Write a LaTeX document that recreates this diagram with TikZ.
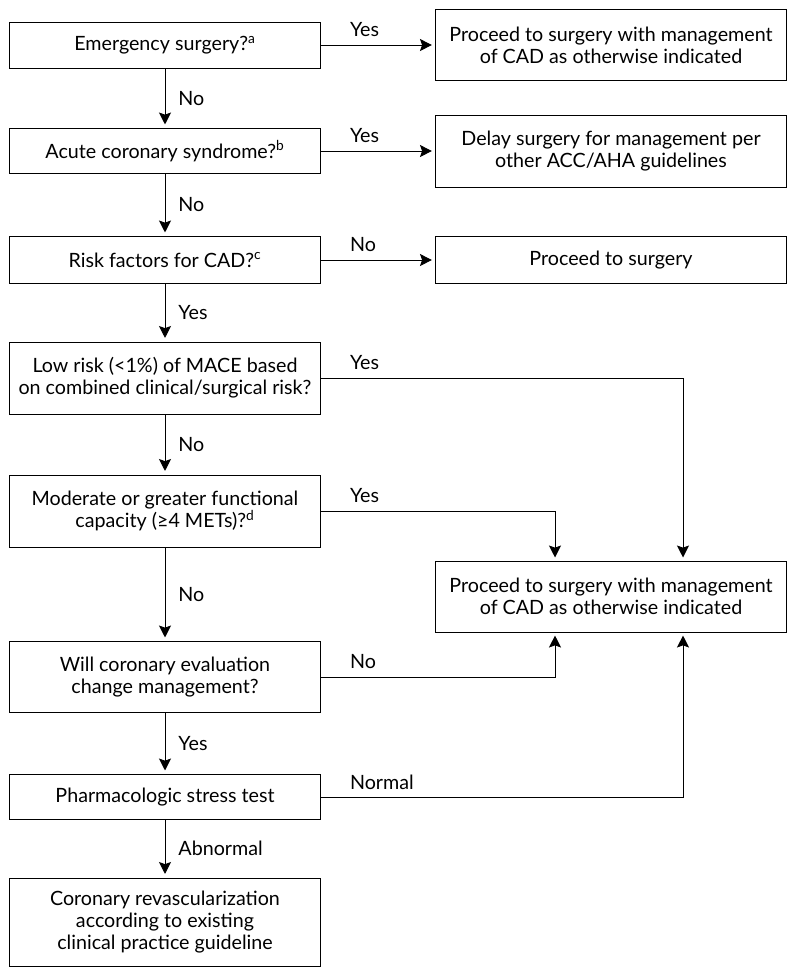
\documentclass[tikz,border=0pt]{standalone}
\usepackage{fontspec}
\setmainfont{Lato}
\usetikzlibrary{arrows.meta}

\tikzset{
  box/.style={draw, line width=0.7pt, align=center, minimum width=7.75cm, inner sep=2pt,
    font=\fontsize{14}{15.7}\selectfont},
  rbox/.style={box, minimum width=8.75cm},
  arr/.style={line width=0.7pt, -{Stealth[length=8.5pt,width=8.5pt,inset=1.5pt]}, shorten >=2.5pt},
  lbl/.style={font=\fontsize{14}{15.7}\selectfont, inner sep=0pt},
  vlbl/.style={lbl, right, xshift=0.325cm},
  hlbl/.style={lbl, pos=0, anchor=west, xshift=0.725cm, yshift=0.375cm},
}

\begin{document}
\begin{tikzpicture}[x=0.025cm,y=-0.025cm]
\useasboundingbox (0,0) rectangle (787,968);

% left column
\node [box, minimum height=1.15cm] (emerg) at (165,45) {Emergency surgery?\textsuperscript{a}};
\node [box, minimum height=1.125cm] (acs) at (165,151) {Acute coronary syndrome?\textsuperscript{b}};
\node [box, minimum height=1.175cm] (risk) at (165,260) {Risk factors for CAD?\textsuperscript{c}};
\node [box, minimum height=1.8cm] (lowrisk) at (165,378) {Low risk (<1\%) of MACE based\\on combined clinical/surgical risk?};
\node [box, minimum height=1.8cm] (capacity) at (165,511) {Moderate or greater functional\\capacity (≥4 METs)?\textsuperscript{d}};
\node [box, minimum height=1.775cm] (evalq) at (165,677) {Will coronary evaluation\\change management?};
\node [box, minimum height=1.125cm] (stress) at (165,797) {Pharmacologic stress test};
\node [box, minimum height=2.2cm] (revasc) at (165,922) {Coronary revascularization\\according to existing\\clinical practice guideline};

% right column
\node [rbox, minimum height=1.775cm] (proceedcad) at (611,45) {Proceed to surgery with management\\of CAD as otherwise indicated};
\node [rbox, minimum height=1.8cm] (delay) at (611,151) {Delay surgery for management per\\other ACC/AHA guidelines};
\node [rbox, minimum height=1.175cm] (proceed) at (611,260) {Proceed to surgery};
\node [rbox, minimum height=1.775cm] (proceedcadb) at (611,596.5) {Proceed to surgery with management\\of CAD as otherwise indicated};

\coordinate (inA) at (555,561);
\coordinate (inB) at (683,561);
\coordinate (outA) at (555,632);
\coordinate (outB) at (683,632);

% vertical flow
\draw [arr] (emerg) -- node [vlbl] {No} (acs);
\draw [arr] (acs) -- node [vlbl] {No} (risk);
\draw [arr] (risk) -- node [vlbl] {Yes} (lowrisk);
\draw [arr] (lowrisk) -- node [vlbl] {No} (capacity);
\draw [arr] (capacity) -- node [vlbl] {No} (evalq);
\draw [arr] (evalq) -- node [vlbl] {Yes} (stress);
\draw [arr] (stress) -- node [vlbl] {Abnormal} (revasc);

% exits to the right
\draw [arr] (emerg) -- node [hlbl] {Yes} (proceedcad);
\draw [arr] (acs) -- node [hlbl] {Yes} (delay);
\draw [arr] (risk) -- node [hlbl] {No} (proceed);
\draw [arr] (lowrisk) -| node [hlbl] {Yes} (inB);
\draw [arr] (capacity) -| node [hlbl] {Yes} (inA);
\draw [arr] (evalq) -| node [hlbl] {No} (outA);
\draw [arr] (stress) -| node [hlbl] {Normal} (outB);
\end{tikzpicture}
\end{document}
